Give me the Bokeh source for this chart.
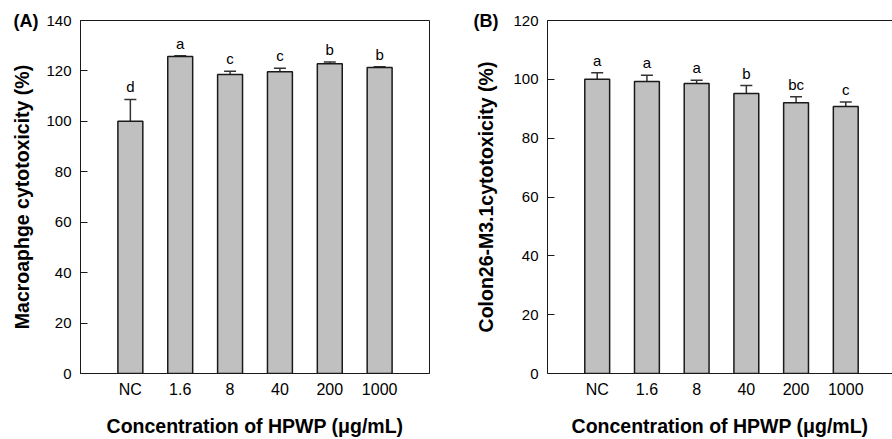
from bokeh.plotting import figure
from bokeh.models import (ColumnDataSource, Range1d, FixedTicker, Whisker, TeeHead,
                          LinearAxis)
from bokeh.layouts import row
from bokeh.embed import file_html
from bokeh.resources import INLINE
from bokeh.core.properties import value

# ---------------- data ----------------
categories = ["NC", "1.6", "8", "40", "200", "1000"]

macro_mean = [100.0, 125.7, 118.6, 119.7, 122.8, 121.4]
macro_err = [8.7, 0.3, 1.3, 1.4, 0.7, 0.3]
macro_letters = ["d", "a", "c", "c", "b", "b"]
macro_yticks = [0, 20, 40, 60, 80, 100, 120, 140]

colon_mean = [100.0, 99.3, 98.6, 95.2, 92.0, 90.8]
colon_err = [2.2, 2.1, 1.1, 2.7, 2.1, 1.5]
colon_letters = ["a", "a", "a", "b", "bc", "c"]
colon_yticks = [0, 20, 40, 60, 80, 100, 120]

x_title = "Concentration of HPWP (\u03bcg/mL)"
macro_ylabel = "Macroaphge cytotoxicity (%)"
colon_ylabel = "Colon26-M3.1cytotoxicity (%)"

FONT = "Liberation Sans"
BAR_FILL = "#c0c0c0"
LINE = "#1a1a1a"


def make_panel(means, errs, letters, yticks, ylabel, tag, *, left, right, x_end,
               tag_standoff, ylabel_standoff, full_outline):
    pos = [i + 1 for i in range(len(categories))]
    src = ColumnDataSource(dict(
        x=pos, top=means, upper=[m + e for m, e in zip(means, errs)], letter=letters))

    p = figure(width=446, height=439, output_backend="svg", toolbar_location=None,
               title=None,
               x_range=Range1d(0, x_end), y_range=Range1d(0, yticks[-1]),
               min_border_left=left, min_border_right=right,
               min_border_top=20, min_border_bottom=65)
    p.xgrid.visible = False
    p.ygrid.visible = False
    p.background_fill_color = "white"
    p.border_fill_color = "white"
    if full_outline:
        p.outline_line_color = LINE
        p.outline_line_width = 1
    else:
        p.outline_line_color = None
        top = LinearAxis(ticker=FixedTicker(ticks=[]), axis_line_color=LINE,
                         axis_line_width=1, major_tick_in=0, major_tick_out=0,
                         minor_tick_in=0, minor_tick_out=0, major_label_standoff=0)
        p.add_layout(top, "above")

    p.vbar(x="x", top="top", bottom=0, width=0.5, source=src,
           fill_color=BAR_FILL, line_color=LINE, line_width=1.5)

    wh = Whisker(base="x", lower="top", upper="upper", source=src, dimension="height",
                 line_color="#333333", line_width=1.5, lower_head=None,
                 upper_head=TeeHead(size=12, line_color="#333333", line_width=1.5))
    p.add_layout(wh)

    p.text(x="x", y="upper", text="letter", source=src, text_align="center",
           text_baseline="bottom", y_offset=-4, text_font=value(FONT),
           text_font_size="15px", text_color="black")

    # x axis (bottom)
    xa = LinearAxis()
    p.below = []
    p.add_layout(xa, "below")
    xa.ticker = FixedTicker(ticks=pos)
    xa.major_label_overrides = {float(k): c for k, c in zip(pos, categories)}
    xa.major_tick_in = 0
    xa.major_tick_out = 0
    xa.minor_tick_in = 0
    xa.minor_tick_out = 0
    xa.major_label_standoff = 7
    xa.major_label_text_font = FONT
    xa.major_label_text_font_size = "16px"
    xa.major_label_text_color = "black"
    xa.axis_line_color = LINE
    xa.axis_line_width = 1
    xa.axis_label = x_title
    xa.axis_label_text_font = FONT
    xa.axis_label_text_font_style = "bold"
    xa.axis_label_text_font_size = "19.5px"
    xa.axis_label_text_color = "black"
    xa.axis_label_standoff = 14

    # y axis (inner: ticks and numbers)
    ya = p.yaxis[0]
    ya.ticker = FixedTicker(ticks=yticks)
    ya.major_tick_in = 7
    ya.major_tick_out = 0
    ya.minor_tick_in = 0
    ya.minor_tick_out = 0
    ya.major_tick_line_color = LINE
    ya.major_label_standoff = 9
    ya.major_label_text_font = FONT
    ya.major_label_text_font_size = "15px"
    ya.major_label_text_color = "black"
    ya.axis_line_color = LINE
    ya.axis_line_width = 1

    # outer left axis: carries the panel tag at the top and the y title
    ya2 = LinearAxis(ticker=FixedTicker(ticks=[yticks[-1]]))
    ya2.major_label_overrides = {float(yticks[-1]): tag}
    ya2.axis_line_color = None
    ya2.major_tick_in = 0
    ya2.major_tick_out = 0
    ya2.minor_tick_in = 0
    ya2.minor_tick_out = 0
    ya2.major_label_standoff = tag_standoff
    ya2.major_label_text_font = FONT
    ya2.major_label_text_font_style = "bold"
    ya2.major_label_text_font_size = "18px"
    ya2.major_label_text_color = "black"
    ya2.axis_label = ylabel
    ya2.axis_label_text_font = FONT
    ya2.axis_label_text_font_style = "bold"
    ya2.axis_label_text_font_size = "19.5px"
    ya2.axis_label_text_color = "black"
    ya2.axis_label_standoff = ylabel_standoff
    p.add_layout(ya2, "left")
    return p


pA = make_panel(macro_mean, macro_err, macro_letters, macro_yticks, macro_ylabel, "(A)",
                left=80, right=17, x_end=7.0, tag_standoff=5, ylabel_standoff=-22,
                full_outline=True)
pB = make_panel(colon_mean, colon_err, colon_letters, colon_yticks, colon_ylabel, "(B)",
                left=101, right=0, x_end=6.94, tag_standoff=12, ylabel_standoff=-26,
                full_outline=False)

layout = row(pA, pB)
open("out.html", "w").write(file_html(layout, INLINE))
